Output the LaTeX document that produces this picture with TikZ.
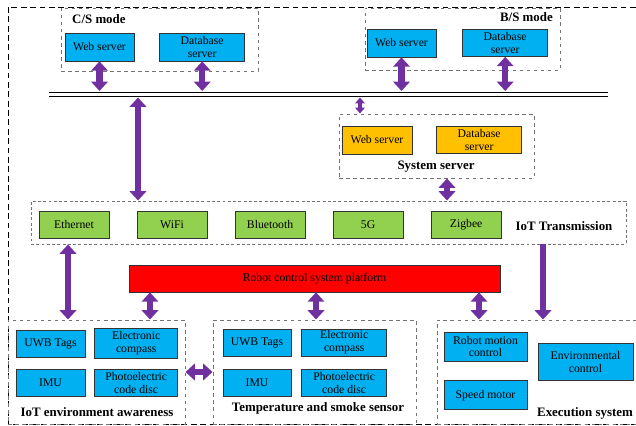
\documentclass[tikz,border=0pt]{standalone}
\usepackage{fontspec}
\setmainfont{Liberation Serif}
\usetikzlibrary{
    positioning,      % 用于相对定位
    arrows.meta,      % 用于箭头样式
    calc              % 坐标计算
}

\definecolor{boxblue}{HTML}{00B0F0}
\definecolor{boxgreen}{HTML}{92D050}
\definecolor{boxorange}{HTML}{FFC000}
\definecolor{boxred}{HTML}{FF0000}
\definecolor{linkpurple}{HTML}{7030A0}

\begin{document}
\begin{tikzpicture}[
        x=0.03cm, y=-0.03cm,
        node distance=0.3cm,
        box/.style={
            rectangle,
            draw=black!80,
            line width=0.6pt,
            minimum width=2.1cm,
            minimum height=0.81cm,
            inner sep=1pt,
            align=center,
            fill=#1,
            font=\fontsize{10}{11}\selectfont
        },
        box/.default=boxblue,
        group/.style={
            rectangle,
            draw=black!55,
            dashed,
            line width=0.8pt,
            inner sep=0pt
        },
        title/.style={
            inner sep=0pt,
            font=\bfseries\fontsize{11}{12}\selectfont
        },
        link/.style={
            draw=linkpurple,
            line width=5.5pt,
            {Triangle[length=8pt,width=14pt]}-{Triangle[length=8pt,width=14pt]}
        },
        linkdown/.style={
            link,
            -{Triangle[length=8pt,width=14pt]}
        },
        thinlink/.style={
            draw=linkpurple,
            line width=2.8pt,
            {Triangle[length=5pt,width=8pt]}-{Triangle[length=5pt,width=8pt]}
        }
    ]
    \useasboundingbox (0,0) rectangle (636,426);
    % 外框
    \draw[black, dash pattern=on 5pt off 3pt, line width=0.8pt] (8,7) rectangle (636,424);

    % 第一层：C/S 与 B/S 模式
    \node[group, minimum width=5.91cm, minimum height=1.89cm] (cs) at (159.5,39.5) {};
    \node[title, anchor=west] (cstitle) at (72,19) {C/S mode};
    \node[box, minimum width=2.07cm, minimum height=0.84cm] (csweb) at (99.5,47) {Web server};
    \node[box, minimum width=2.55cm, minimum height=0.84cm, right=0.75cm of csweb] (csdb) {Database\\server};

    \node[group, minimum width=5.85cm, minimum height=1.86cm] (bs) at (462.5,39) {};
    \node[title, anchor=east] (bstitle) at (553,17) {B/S mode};
    \node[box, minimum width=2.07cm, minimum height=0.84cm] (bsweb) at (401.5,43) {Web server};
    \node[box, minimum width=2.55cm, minimum height=0.81cm, right=0.78cm of bsweb] (bsdb) {Database\\server};

    % 总线（双线）
    \coordinate (busL) at (49,92);
    \coordinate (busR) at (608,92);
    \coordinate (busL2) at (49,96.5);
    \coordinate (busR2) at (608,96.5);
    \coordinate (bustop) at (0,91);
    \coordinate (busbot) at (0,97.5);
    \draw[black, line width=0.8pt] (busL) -- (busR);
    \draw[black, line width=0.8pt] (busL2) -- (busR2);

    \draw[link] (csweb.south) -- (csweb.south |- bustop);
    \draw[link] (csdb.south) -- (csdb.south |- bustop);
    \draw[link] (bsweb.south) -- (bsweb.south |- bustop);
    \draw[link] (bsdb.south) -- (bsdb.south |- bustop);

    % 第二层：系统服务器
    \node[group, minimum width=5.85cm, minimum height=1.92cm] (sys) at (436.5,146) {};
    \node[box=boxorange, minimum width=2.1cm, minimum height=0.84cm] (sysweb) at (377,140) {Web server};
    \node[box=boxorange, minimum width=2.55cm, minimum height=0.81cm, right=0.72cm of sysweb] (sysdb) {Database\\server};
    \node[title] (systitle) at (436,167) {System server};

    \coordinate (syslink) at (360,0);
    \draw[thinlink] (busbot -| syslink) -- (sys.north -| syslink);

    % 第三层：物联网传输
    \node[group, dash pattern=on 2.5pt off 2pt, minimum width=17.85cm, minimum height=1.29cm] (iot) at (328.5,222.5) {};
    \node[box=boxgreen] (eth) at (74,224.5) {Ethernet};
    \node[box=boxgreen, right=0.82cm of eth] (wifi) {WiFi};
    \node[box=boxgreen, right=0.82cm of wifi] (bt) {Bluetooth};
    \node[box=boxgreen, right=0.82cm of bt] (fiveg) {5G};
    \node[box=boxgreen, right=0.82cm of fiveg] (zigbee) {Zigbee};
    \node[title] (iottitle) at (564,226) {IoT Transmission};

    \coordinate (iotlink) at (138,0);
    \coordinate (sysiotlink) at (447,0);
    \draw[link] (busbot -| iotlink) -- (iot.north -| iotlink);
    \draw[link] (sys.south -| sysiotlink) -- (iot.north -| sysiotlink);

    % 第四层：机器人控制平台
    \node[box=boxred, minimum width=11.13cm, minimum height=0.81cm] (robot) at (314.5,278.5) {Robot control system platform};

    % 第五层：感知与执行
    \node[group, minimum width=5.31cm, minimum height=3.12cm] (env) at (96.5,372) {};
    \node[box, minimum width=2.07cm] (envuwb) at (50.5,343.5) {UWB Tags};
    \node[box, minimum width=2.49cm, minimum height=0.9cm, right=0.27cm of envuwb] (envcomp) {Electronic\\compass};
    \node[box, minimum width=2.07cm, below=0.36cm of envuwb] (envimu) {IMU};
    \node[box, minimum width=2.49cm, right=0.27cm of envimu] (envdisc) {Photoelectric\\code disc};
    \node[title] (envtitle) at (97,412) {IoT environment awareness};

    \node[group, minimum width=6.09cm, minimum height=3.12cm] (temp) at (314.5,372) {};
    \node[box, minimum width=2.04cm] (tempuwb) at (257,342.5) {UWB Tags};
    \node[box, minimum width=2.55cm, right=0.3cm of tempuwb] (tempcomp) {Electronic\\compass};
    \node[box, minimum width=2.04cm, below=0.39cm of tempuwb] (tempimu) {IMU};
    \node[box, minimum width=2.55cm, right=0.3cm of tempimu] (tempdisc) {Photoelectric\\code disc};
    \node[title] (temptitle) at (318,408) {Temperature and smoke sensor};

    \node[group, minimum width=5.97cm, minimum height=3.12cm] (exec) at (536.5,372) {};
    \node[box, minimum width=2.49cm, minimum height=0.87cm] (motion) at (485.5,346.5) {Robot motion\\control};
    \node[box, minimum width=2.49cm, minimum height=0.87cm, below=0.57cm of motion] (speed) {Speed motor};
    \node[box, minimum width=2.85cm, minimum height=1.11cm] (envctrl) at (585.5,362) {Environmental\\control};
    \node[title, anchor=east] (exectitle) at (633,413) {Execution system};

    % 箭头连接
    \coordinate (envlink) at (68,0);
    \coordinate (execlink) at (543,0);
    \coordinate (robotA) at (150,0);
    \coordinate (robotB) at (316,0);
    \coordinate (robotC) at (479,0);
    \draw[link] (iot.south -| envlink) -- (env.north -| envlink);
    \draw[linkdown] (iot.south -| execlink) -- (exec.north -| execlink);
    \draw[link] (robot.south -| robotA) -- (env.north -| robotA);
    \draw[link] (robot.south -| robotB) -- (temp.north -| robotB);
    \draw[link] (robot.south -| robotC) -- (exec.north -| robotC);
    \draw[link] (env.east) -- (temp.west);
\end{tikzpicture}
\end{document}
